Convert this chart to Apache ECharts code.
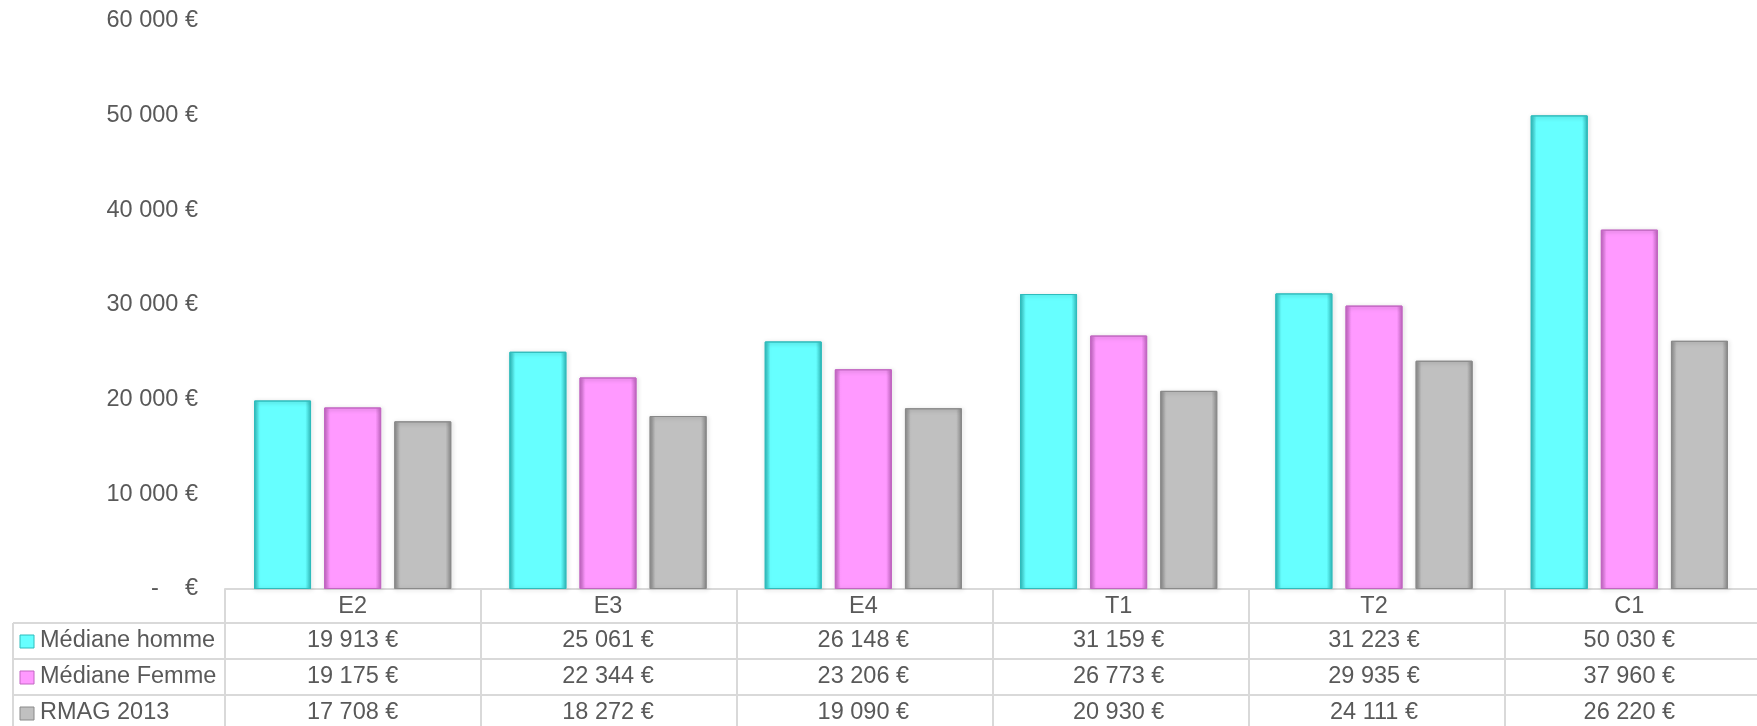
<!DOCTYPE html>
<html>
<head>
<meta charset="utf-8">
<script src="https://cdn.jsdelivr.net/npm/echarts@6/dist/echarts.min.js"></script>
<style>
  html, body { margin: 0; padding: 0; background: #fff; }
  #chart { width: 1757px; height: 726px; }
</style>
</head>
<body>
<div id="chart"></div>
<script>
// données du graphique
var categories = ['E2', 'E3', 'E4', 'T1', 'T2', 'C1'];
var seriesNames = ['Médiane homme', 'Médiane Femme', 'RMAG 2013'];
var hommeValues = [19913, 25061, 26148, 31159, 31223, 50030];
var femmeValues = [19175, 22344, 23206, 26773, 29935, 37960];
var rmagValues = [17708, 18272, 19090, 20930, 24111, 26220];
var yMin = 0, yMax = 60000, yStep = 10000;

var allValues = [hommeValues, femmeValues, rmagValues];
var baseColors = ['#66ffff', '#ff99ff', '#c0c0c0'];
var edgeColors = ['#2fbcbc', '#c266c2', '#8a8a8a'];
var textColor = '#595959';
var lineColor = '#d9d9d9';
var font = '"Liberation Sans", Arial, sans-serif';
var fontSize = 23.5;

function euro(v) {
    if (v === 0) return '-    €';
    return String(v).replace(/\B(?=(\d{3})+(?!\d))/g, ' ') + ' €';
}

function barColor(i) {
    return new echarts.graphic.LinearGradient(0, 0, 1, 0, [
        { offset: 0, color: edgeColors[i] },
        { offset: 0.1, color: baseColors[i] },
        { offset: 0.9, color: baseColors[i] },
        { offset: 1, color: edgeColors[i] }
    ]);
}

var myChart = echarts.init(document.getElementById('chart'));

var gridLeft = 225, gridWidth = 1536, gridTop = 21, gridBottom = 137;

var option = {
    animation: false,
    textStyle: { fontFamily: font },
    grid: { left: gridLeft, width: gridWidth, top: gridTop, bottom: gridBottom },
    xAxis: {
        type: 'category',
        data: categories,
        axisLine: { lineStyle: { color: lineColor, width: 2 } },
        axisTick: { show: false },
        axisLabel: { show: false }
    },
    yAxis: {
        type: 'value',
        min: yMin,
        max: yMax,
        interval: yStep,
        splitLine: { show: false },
        axisLine: { show: false },
        axisTick: { show: false },
        axisLabel: {
            color: textColor,
            fontSize: fontSize,
            margin: 27,
            fontFamily: font,
            formatter: euro
        }
    },
    series: seriesNames.map(function (name, i) {
        return {
            name: name,
            type: 'bar',
            data: allValues[i],
            barWidth: 57,
            barGap: '23%',
            itemStyle: {
                color: barColor(i),
                borderColor: edgeColors[i],
                borderWidth: 1,
                shadowColor: 'rgba(0,0,0,0.25)',
                shadowBlur: 4,
                shadowOffsetX: 1,
                shadowOffsetY: 1
            }
        };
    })
};

myChart.setOption(option);

// tableau de données sous le graphique
var headerTop = 590, headerH = 33, rowH = 36, tableLeft = 13;
var axisY = myChart.getHeight() - gridBottom;
var colW = gridWidth / categories.length;
var graphics = [];
var lineStyle = { stroke: lineColor, lineWidth: 2 };
var txt = fontSize + 'px ' + font;

function rowCenter(si) {
    return headerTop + headerH + (si + 0.5) * rowH;
}

// lignes horizontales
for (var r = 0; r < 4; r++) {
    var y = headerTop + headerH + r * rowH;
    graphics.push({ type: 'line', shape: { x1: tableLeft, y1: y, x2: 1757, y2: y }, style: lineStyle });
}
// bord gauche
graphics.push({ type: 'line', shape: { x1: tableLeft, y1: headerTop + headerH, x2: tableLeft, y2: 726 }, style: lineStyle });
// séparateurs de colonnes
for (var c = 0; c <= categories.length; c++) {
    var x = gridLeft + c * colW;
    graphics.push({ type: 'line', shape: { x1: x, y1: axisY, x2: x, y2: 726 }, style: lineStyle });
}
// en-têtes + valeurs
categories.forEach(function (cat, ci) {
    var cx = myChart.convertToPixel({ xAxisIndex: 0 }, ci);
    graphics.push({
        type: 'text', x: cx, y: headerTop + headerH / 2,
        style: { text: cat, fill: textColor, font: txt, align: 'center', verticalAlign: 'middle' }
    });
    allValues.forEach(function (vals, si) {
        graphics.push({
            type: 'text', x: cx, y: rowCenter(si),
            style: { text: euro(vals[ci]), fill: textColor, font: txt, align: 'center', verticalAlign: 'middle' }
        });
    });
});
// légende dans le tableau
seriesNames.forEach(function (name, si) {
    var cy = rowCenter(si);
    graphics.push({
        type: 'rect', shape: { x: 20, y: cy - 6, width: 14, height: 13 },
        style: { fill: baseColors[si], stroke: edgeColors[si], lineWidth: 1 }
    });
    graphics.push({
        type: 'text', x: 40, y: cy,
        style: { text: name, fill: textColor, font: txt, align: 'left', verticalAlign: 'middle' }
    });
});

myChart.setOption({ graphic: graphics });
</script>
</body>
</html>
